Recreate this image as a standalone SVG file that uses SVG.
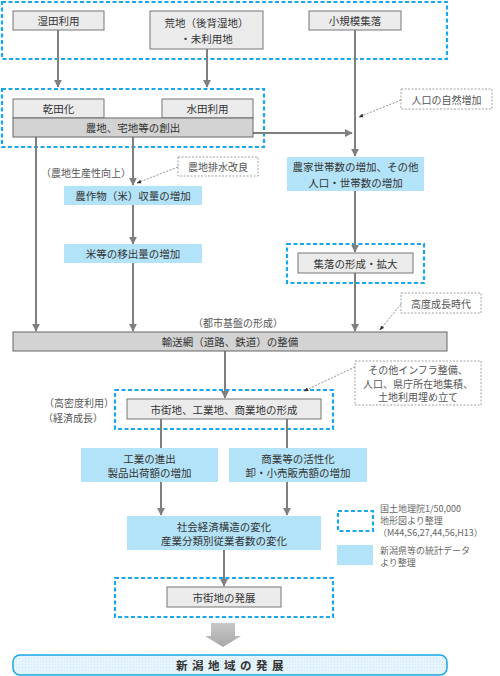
<svg xmlns="http://www.w3.org/2000/svg" width="500" height="676" viewBox="0 0 500 676">
<defs>
<style>
text{font-family:"Noto Sans CJK JP","Noto Sans CJK SC",sans-serif;font-size:10.5px;fill:#333;text-anchor:middle;dominant-baseline:central}
.g{fill:#ebebeb;stroke:#777;stroke-width:1}
.d{fill:#d3d3d3;stroke:#666;stroke-width:1}
.b{fill:#b3e3f8;stroke:none}
.grp{fill:none;stroke:#1aa6ea;stroke-width:2.2;stroke-dasharray:4,2.5}
.note{fill:#fff;stroke:#888;stroke-width:0.8;stroke-dasharray:2,1.5}
.nt{fill:#555;font-size:10px}
.ln{stroke:#7f7f7f;stroke-width:2;fill:none}
.dl{stroke:#777;stroke-width:0.8;stroke-dasharray:2,1.5;fill:none}
.lg{fill:#666;font-size:9px;text-anchor:start}
</style>
<marker id="ah" viewBox="0 0 10 10" refX="9" refY="5" markerWidth="4" markerHeight="4" orient="auto"><path d="M0,0L10,5L0,10z" fill="#7f7f7f"/></marker>
<marker id="ad" viewBox="0 0 10 10" refX="9" refY="5" markerWidth="6" markerHeight="6" orient="auto"><path d="M0,1L10,5L0,9z" fill="#333"/></marker>
<pattern id="dots" width="3" height="3" patternUnits="userSpaceOnUse"><rect width="3" height="3" fill="#e6f5fd"/><circle cx="1.5" cy="1.5" r="0.5" fill="#c5e6f6"/></pattern>
<linearGradient id="ga" x1="0" y1="0" x2="0" y2="1"><stop offset="0" stop-color="#c8c8c8"/><stop offset="1" stop-color="#a8a8a8"/></linearGradient>
</defs>

<g id="groups">
<rect class="grp" x="2" y="2" width="445" height="57"/>
<rect class="grp" x="2" y="89" width="262" height="58"/>
<rect class="grp" x="287" y="244" width="137" height="39"/>
<rect class="grp" x="115" y="390" width="218" height="39"/>
<rect class="grp" x="115" y="578" width="218" height="39"/>
</g>

<g id="connectors">
<line class="ln" x1="58" y1="30" x2="58" y2="87" marker-end="url(#ah)"/>
<line class="ln" x1="207" y1="49" x2="207" y2="87" marker-end="url(#ah)"/>
<line class="ln" x1="355" y1="30" x2="355" y2="156" marker-end="url(#ah)"/>
<line class="ln" x1="253" y1="133" x2="352" y2="133" marker-end="url(#ah)"/>
<line class="ln" x1="36" y1="137" x2="36" y2="331" marker-end="url(#ah)"/>
<line class="ln" x1="133" y1="137" x2="133" y2="185" marker-end="url(#ah)"/>
<line class="ln" x1="133" y1="205" x2="133" y2="244" marker-end="url(#ah)"/>
<line class="ln" x1="133" y1="263" x2="133" y2="331" marker-end="url(#ah)"/>
<line class="ln" x1="355" y1="191" x2="355" y2="252" marker-end="url(#ah)"/>
<line class="ln" x1="355" y1="273" x2="355" y2="331" marker-end="url(#ah)"/>
<line class="ln" x1="225" y1="351" x2="225" y2="398" marker-end="url(#ah)"/>
<line class="ln" x1="161" y1="419" x2="161" y2="448"/>
<line class="ln" x1="287" y1="419" x2="287" y2="448"/>
<line class="ln" x1="161" y1="482" x2="161" y2="515" marker-end="url(#ah)"/>
<line class="ln" x1="287" y1="482" x2="287" y2="515" marker-end="url(#ah)"/>
<line class="ln" x1="224" y1="550" x2="224" y2="586" marker-end="url(#ah)"/>
<line class="dl" x1="178" y1="167" x2="137" y2="183" marker-end="url(#ad)"/>
<line class="dl" x1="401" y1="100" x2="359" y2="117" marker-end="url(#ad)"/>
<line class="dl" x1="401" y1="304" x2="380" y2="330" marker-end="url(#ad)"/>
<line class="dl" x1="355" y1="367" x2="304" y2="391" marker-end="url(#ad)"/>
<path d="M211,623H235V636H241L223,647L205,636H211Z" fill="url(#ga)"/>
</g>

<g id="n-shitsuden"><rect class="g" x="13" y="11" width="91" height="19"/><text x="58.5" y="20.5">湿田利用</text></g>
<g id="n-kouchi"><rect class="g" x="150" y="11" width="113" height="38"/><text x="206.5" y="22">荒地（後背湿地）</text><text x="206.5" y="38">・未利用地</text></g>
<g id="n-shoukibo"><rect class="g" x="309" y="11" width="92" height="19"/><text x="355" y="20.5">小規模集落</text></g>
<g id="n-kandenka"><rect class="g" x="13" y="99" width="91" height="19"/><text x="58.5" y="108.5">乾田化</text></g>
<g id="n-suiden"><rect class="g" x="162" y="99" width="91" height="19"/><text x="207.5" y="108.5">水田利用</text></g>
<g id="n-nouchi"><rect class="d" x="13" y="118" width="240" height="19"/><text x="133" y="127.5">農地、宅地等の創出</text></g>
<g id="n-jinkou"><rect class="note" x="401" y="89" width="91" height="20"/><text class="nt" x="446.5" y="99">人口の自然増加</text></g>
<text class="nt" x="86" y="172">（農地生産性向上）</text>
<g id="n-haisui"><rect class="note" x="178" y="157" width="80" height="19"/><text class="nt" x="218" y="166.5">農地排水改良</text></g>
<g id="n-sakumotsu"><rect class="b" x="64" y="186" width="138" height="19"/><text x="133" y="195.5">農作物（米）収量の増加</text></g>
<g id="n-kome"><rect class="b" x="64" y="244" width="138" height="19"/><text x="133" y="253.5">米等の移出量の増加</text></g>
<g id="n-nouka"><rect class="b" x="287" y="157" width="137" height="34"/><text x="355.5" y="166.5">農家世帯数の増加、その他</text><text x="355.5" y="182">人口・世帯数の増加</text></g>
<g id="n-shuuraku"><rect class="g" x="298" y="253" width="115" height="20"/><text x="355.5" y="263">集落の形成・拡大</text></g>
<g id="n-koudo"><rect class="note" x="401" y="293" width="80" height="20"/><text class="nt" x="441" y="303">高度成長時代</text></g>
<text class="nt" x="238" y="322">（都市基盤の形成）</text>
<g id="n-yusou"><rect class="d" x="13" y="332" width="434" height="19"/><text x="230" y="341.5">輸送網（道路、鉄道）の整備</text></g>
<g id="n-infra"><rect class="note" x="355" y="361" width="126" height="44"/><text class="nt" x="418" y="369.5">その他インフラ整備、</text><text class="nt" x="418" y="383">人口、県庁所在地集積、</text><text class="nt" x="418" y="396.5">土地利用埋め立て</text></g>
<text class="nt" x="79" y="402">（高密度利用）</text>
<text class="nt" x="73" y="417">（経済成長）</text>
<g id="n-shigaichi"><rect class="g" x="127" y="399" width="194" height="20"/><text x="224" y="409">市街地、工業地、商業地の形成</text></g>
<g id="n-kougyou"><rect class="b" x="81" y="448" width="137" height="34"/><text x="149.5" y="458">工業の進出</text><text x="149.5" y="472.5">製品出荷額の増加</text></g>
<g id="n-shougyou"><rect class="b" x="229" y="448" width="138" height="34"/><text x="298" y="458">商業等の活性化</text><text x="298" y="472.5">卸・小売販売額の増加</text></g>
<g id="n-shakai"><rect class="b" x="127" y="516" width="194" height="34"/><text x="224" y="526">社会経済構造の変化</text><text x="224" y="540.5">産業分類別従業者数の変化</text></g>
<g id="n-hatten"><rect class="g" x="167" y="587" width="114" height="20"/><text x="224" y="597">市街地の発展</text></g>
<g id="n-niigata"><rect x="13" y="655" width="434" height="20" rx="7" fill="url(#dots)" stroke="#1aa6ea" stroke-width="1.5"/><text x="232" y="665" style="font-weight:bold;font-size:11.5px;letter-spacing:4.5px">新潟地域の発展</text></g>
<g id="legend">
<rect class="grp" x="338" y="511" width="35" height="20"/>
<text class="lg" x="380" y="508">国土地理院1/50,000</text>
<text class="lg" x="380" y="520">地形図より整理</text>
<text class="lg" x="378" y="532">（M44,S6,27,44,56,H13）</text>
<rect class="b" x="337" y="545" width="36" height="20"/>
<text class="lg" x="380" y="550">新潟県等の統計データ</text>
<text class="lg" x="380" y="562">より整理</text>
</g>
</svg>
